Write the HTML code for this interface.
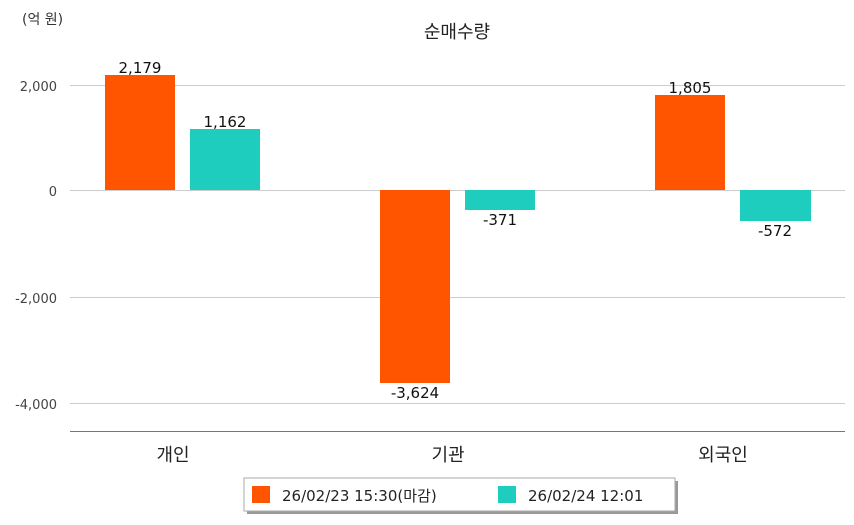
<!DOCTYPE html>
<html><head><meta charset="utf-8"><style>
body{margin:0;background:#fff;}
svg text{font-family:"DejaVu Sans","Noto Sans CJK KR",sans-serif;}
</style></head><body>
<svg width="854" height="520" viewBox="0 0 854 520" xmlns="http://www.w3.org/2000/svg">
<rect width="854" height="520" fill="#fff"/>
<text x="22" y="24" font-size="14" fill="#333">(억 원)</text>
<text x="457" y="38" font-size="18" fill="#222" text-anchor="middle">순매수량</text>
<g stroke="#ccc" stroke-width="1">
<line x1="70" y1="85.5" x2="845" y2="85.5"/>
<line x1="70" y1="190.5" x2="845" y2="190.5"/>
<line x1="70" y1="297.5" x2="845" y2="297.5"/>
<line x1="70" y1="403.5" x2="845" y2="403.5"/>
</g>
<line x1="70" y1="431.5" x2="845" y2="431.5" stroke="#777" stroke-width="1"/>
<g font-size="13" fill="#444" text-anchor="end">
<text x="57" y="91">2,000</text>
<text x="57" y="196">0</text>
<text x="57" y="303">-2,000</text>
<text x="57" y="409">-4,000</text>
</g>
<g fill="#ff5500">
<rect x="105" y="75" width="70" height="115"/>
<rect x="380" y="190" width="70" height="193"/>
<rect x="655" y="95" width="70" height="95"/>
</g>
<g fill="#1ecdbe">
<rect x="190" y="129" width="70" height="61"/>
<rect x="465" y="190" width="70" height="20"/>
<rect x="740" y="190" width="71" height="31"/>
</g>
<g font-size="15" fill="#111" text-anchor="middle">
<text x="140" y="73">2,179</text>
<text x="225" y="127">1,162</text>
<text x="415" y="398">-3,624</text>
<text x="500" y="225">-371</text>
<text x="690" y="93">1,805</text>
<text x="775" y="236">-572</text>
</g>
<g font-size="18" fill="#222" text-anchor="middle">
<text x="173" y="461">개인</text>
<text x="448" y="461">기관</text>
<text x="723" y="461">외국인</text>
</g>
<rect x="247" y="481" width="431" height="33" fill="#999"/>
<rect x="244" y="478" width="431" height="33" fill="#fff" stroke="#aaa"/>
<rect x="252" y="486" width="18" height="17" fill="#ff5500"/>
<text x="282" y="501" font-size="15" fill="#222">26/02/23 15:30(마감)</text>
<rect x="498" y="486" width="18" height="17" fill="#1ecdbe"/>
<text x="528" y="501" font-size="15" fill="#222">26/02/24 12:01</text>
</svg>
</body></html>
